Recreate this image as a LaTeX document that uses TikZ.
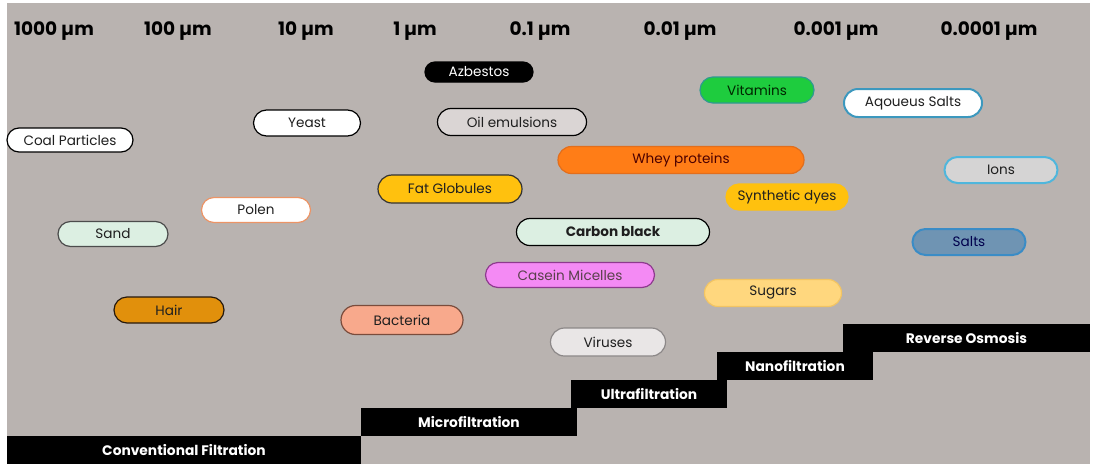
\documentclass[tikz,border=0pt]{standalone}
\usepackage{fontspec}
\setmainfont{Poppins}
\usetikzlibrary{shapes.misc}

\definecolor{bgcol}{HTML}{B9B3B0}
\definecolor{mint}{HTML}{DCEFE2}
\definecolor{greyfill}{HTML}{DAD5D4}
\definecolor{vitgreen}{HTML}{1ECC3E}
\definecolor{vitline}{HTML}{2E9A90}
\definecolor{aqline}{HTML}{3C98BE}
\definecolor{wheyfill}{HTML}{FF7D17}
\definecolor{wheyline}{HTML}{E26E1C}
\definecolor{ionfill}{HTML}{D5D4D4}
\definecolor{ionline}{HTML}{4FB6DC}
\definecolor{gold}{HTML}{FFC10E}
\definecolor{polline}{HTML}{EC9466}
\definecolor{saltfill}{HTML}{6F94B3}
\definecolor{saltline}{HTML}{3A8CC6}
\definecolor{casfill}{HTML}{F48AF4}
\definecolor{casline}{HTML}{8E3A8E}
\definecolor{sugfill}{HTML}{FFD77E}
\definecolor{sugline}{HTML}{F2C463}
\definecolor{hairfill}{HTML}{E1900C}
\definecolor{bacfill}{HTML}{F8A98C}
\definecolor{bacline}{HTML}{7A4C3C}
\definecolor{virfill}{HTML}{E9E6E6}
\definecolor{virline}{HTML}{8C8888}

\begin{document}
\begin{tikzpicture}[x=1pt,y=1pt,
    pill/.style={rounded rectangle, draw, line width=1.2pt, minimum height=26pt,
      text=black!88, font=\fontsize{13.6}{15}\selectfont},
    thickpill/.style={pill, line width=2pt},
    sizelabel/.style={anchor=base, font=\fontsize{18.5}{20}\selectfont\bfseries},
    stepbar/.style={fill=black, text=white, minimum height=28pt,
      font=\fontsize{13.8}{15}\selectfont\bfseries}]
    \tikzstyle{every node}+=[inner sep=0pt]
    \useasboundingbox (0,0) rectangle (1102,-469);
    \fill [bgcol] (7,-3) rectangle (1090,-464);
    \node [sizelabel] (s1000) at (54,-35) {1000 µm};
    \node [sizelabel] (s100) at (178,-35) {100 µm};
    \node [sizelabel] (s10) at (306,-35) {10 µm};
    \node [sizelabel] (s1) at (415,-35) {1 µm};
    \node [sizelabel] (s01) at (540,-35) {0.1 µm};
    \node [sizelabel] (s001) at (680,-35) {0.01 µm};
    \node [sizelabel] (s0001) at (836,-35) {0.001 µm};
    \node [sizelabel] (s00001) at (989,-35) {0.0001 µm};
    \node [pill, fill=black, text=white, minimum width=108pt, minimum height=20pt] (azbestos) at (479,-72) {Azbestos};
    \node [pill, fill=vitgreen, draw=vitline, text=black!85!green, minimum width=114pt] (vitamins) at (757,-90) {Vitamins};
    \node [thickpill, fill=white, draw=aqline, minimum width=138pt, minimum height=28pt] (aqsalts) at (913,-103) {Aqoueus Salts};
    \node [pill, fill=white, minimum width=126pt, minimum height=24pt] (coal) at (70,-140) {Coal Particles};
    \node [pill, fill=white, minimum width=107pt] (yeast) at (307,-123) {Yeast};
    \node [pill, fill=greyfill, minimum width=149pt, minimum height=27pt] (oil) at (512,-122) {Oil emulsions};
    \node [pill, fill=wheyfill, draw=wheyline, text=black!70!red, minimum width=246pt, minimum height=27pt] (whey) at (681,-160) {Whey proteins};
    \node [thickpill, fill=ionfill, draw=ionline, minimum width=113pt] (ions) at (1001,-170) {Ions};
    \node [pill, fill=gold, draw=black!80, minimum width=144pt, minimum height=28pt] (fat) at (450,-189) {Fat Globules};
    \node [pill, fill=gold, draw=gold, minimum width=122pt] (dyes) at (787,-197) {Synthetic dyes};
    \node [pill, fill=white, draw=polline, minimum width=109pt, minimum height=25pt] (polen) at (256,-210) {Polen};
    \node [pill, fill=mint, draw=black!70, minimum width=110pt, minimum height=25pt] (sand) at (113,-234) {Sand};
    \node [pill, fill=mint, minimum width=193pt, minimum height=27pt, font=\fontsize{13.6}{15}\selectfont\bfseries] (carbon) at (613,-232) {Carbon black};
    \node [thickpill, fill=saltfill, draw=saltline, text=black!70!blue, minimum width=113pt] (salts) at (969,-242) {Salts};
    \node [pill, fill=casfill, draw=casline, text=black!75!magenta, minimum width=169pt, minimum height=25pt] (casein) at (570,-275) {Casein Micelles};
    \node [pill, fill=sugfill, draw=sugline, minimum width=137pt, minimum height=27pt] (sugars) at (773,-293) {Sugars};
    \node [pill, fill=hairfill, draw=black!80!brown, minimum width=110pt] (hair) at (169,-310) {Hair};
    \node [pill, fill=bacfill, draw=bacline, minimum width=122pt, minimum height=29pt] (bacteria) at (402,-320) {Bacteria};
    \node [pill, fill=virfill, draw=virline, minimum width=115pt, minimum height=28pt] (viruses) at (608,-342) {Viruses};
    \node [stepbar, minimum width=354pt] (conv) at (184,-450) {Conventional Filtration};
    \node [stepbar, minimum width=216pt] (micro) at (469,-422) {Microfiltration};
    \node [stepbar, minimum width=156pt] (ultra) at (649,-394) {Ultrafiltration};
    \node [stepbar, minimum width=156pt] (nano) at (795,-366) {Nanofiltration};
    \node [stepbar, minimum width=247pt] (ro) at (966.5,-338) {Reverse Osmosis};
\end{tikzpicture}
\end{document}
